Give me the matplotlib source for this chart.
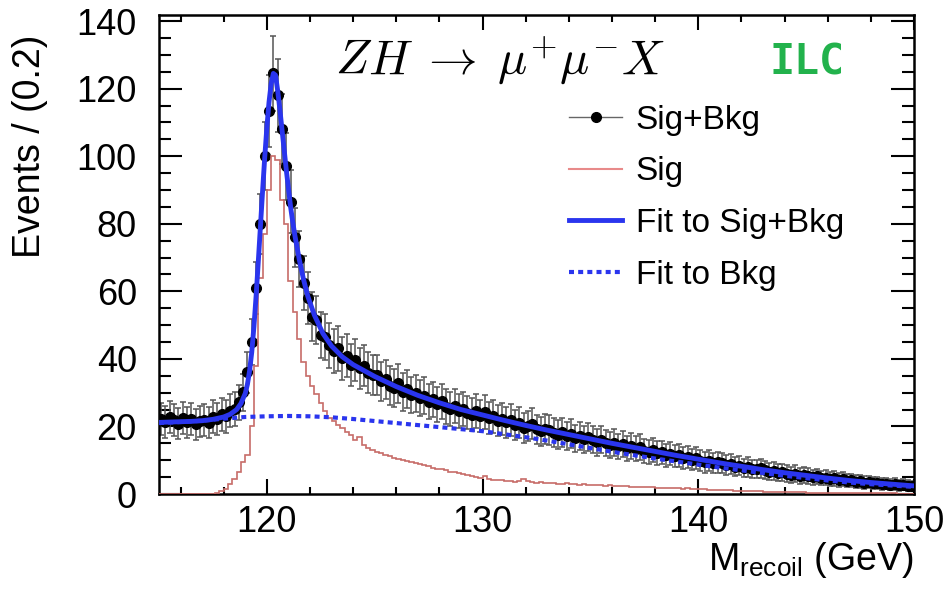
import matplotlib
matplotlib.use('Agg')
import matplotlib.pyplot as plt
import numpy as np
from matplotlib.lines import Line2D
from matplotlib.ticker import MultipleLocator

# Sig+Bkg events per 0.2 GeV bin, 115.0 -> 150.0 GeV (175 bins)
data_counts = [
    22.1, 21.3, 22.8, 21.9, 20.8, 22.4, 21.2, 22.3, 20.6, 21.5,
    22.0, 21.1, 22.9, 22.2, 23.6, 23.0, 24.7, 25.3, 27.2, 30.1,
    36.0, 45.0, 61.0, 80.0, 100.0, 113.5, 124.5, 118.0, 108.0, 97.0,
    86.5, 76.0, 69.5, 62.5, 58.0, 52.5, 51.5, 47.0, 46.5, 44.0,
    42.3, 43.1, 40.2, 41.0, 38.1, 39.6, 37.2, 38.0, 35.9, 35.1,
    35.2, 33.4, 33.9, 32.1, 31.3, 32.8, 30.2, 31.1, 29.3, 29.8,
    28.4, 29.1, 27.3, 28.0, 26.6, 27.4, 25.9, 25.3, 26.1, 24.6,
    25.1, 24.0, 23.5, 24.6, 23.1, 24.3, 22.4, 23.0, 21.7, 22.3,
    21.2, 22.0, 20.4, 21.1, 19.6, 20.2, 20.8, 19.1, 18.6, 19.3,
    19.0, 18.1, 17.6, 18.3, 17.2, 17.9, 16.5, 17.3, 16.2, 16.8,
    16.1, 15.3, 16.0, 15.1, 14.5, 15.2, 14.1, 14.7, 13.6, 14.2,
    13.4, 13.9, 12.8, 12.5, 13.0, 12.1, 12.3, 11.5, 11.9, 11.2,
    11.4, 10.7, 11.0, 10.2, 10.6, 9.9, 9.4, 9.9, 9.1, 9.4,
    9.2, 8.6, 8.9, 8.1, 8.4, 7.7, 8.0, 7.4, 7.3, 7.6,
    7.1, 6.6, 6.9, 6.3, 6.4, 6.0, 5.7, 6.0, 5.4, 5.6,
    5.4, 5.0, 5.2, 4.7, 4.8, 4.4, 4.6, 4.1, 4.3, 3.9,
    4.0, 3.7, 3.8, 3.4, 3.5, 3.2, 3.3, 3.0, 3.1, 2.8,
    2.9, 2.6, 2.7, 2.5, 2.4,
]

# signal only histogram, same binning
sig_counts = [
    0, 0, 0, 0, 0, 0, 0, 0, 0, 0,
    0, 0, 0, 0.3, 0.8, 1.5, 3.0, 4.5, 6.5, 9.5,
    11.5, 20.0, 38.0, 64.0, 77.0, 90.0, 100.0, 99.0, 87.0, 80.0,
    63.0, 54.0, 46.0, 39.0, 35.0, 32.0, 29.5, 27.0, 24.5, 22.6,
    21.5, 20.5, 19.5, 18.5, 17.5, 16.0, 17.0, 14.5, 13.5, 13.0,
    12.5, 12.0, 11.5, 11.2, 10.8, 10.3, 10.0, 9.8, 9.5, 9.3,
    9.0, 8.7, 8.2, 7.8, 7.5, 7.3, 7.0, 6.6, 6.4, 6.1,
    5.8, 5.5, 5.3, 5.0, 4.8, 5.4, 4.4, 4.2, 4.0, 4.1,
    3.9, 3.8, 3.7, 3.9, 4.3, 3.8, 3.5, 3.4, 3.5, 3.3,
    3.2, 3.3, 3.1, 3.0, 3.2, 2.9, 3.0, 2.8, 2.9, 2.7,
    2.7, 2.8, 2.6, 2.5, 2.7, 2.4, 2.5, 2.3, 2.4, 2.2,
    2.2, 2.1, 2.2, 2.0, 2.1, 1.9, 1.9, 1.8, 1.9, 1.7,
    1.7, 1.6, 1.7, 1.5, 1.5, 1.4, 1.4, 1.3, 1.3, 1.2,
    1.2, 1.1, 1.1, 1.0, 1.0, 0.9, 0.9, 0.8, 0.8, 0.8,
    0.7, 0.7, 0.7, 0.6, 0.6, 0.6, 0.5, 0.5, 0.5, 0.5,
    0.4, 0.4, 0.4, 0.4, 0.3, 0.3, 0.3, 0.3, 0.3, 0.3,
    0.3, 0.2, 0.2, 0.2, 0.2, 0.2, 0.2, 0.2, 0.2, 0.2,
    0.2, 0.1, 0.1, 0.1, 0.1,
]

# fit to sig+bkg
fit_m = [115.0, 115.5, 116.0, 116.5, 117.0, 117.5, 118.0, 118.3, 118.6, 118.8,
         119.0, 119.1, 119.2, 119.3, 119.4, 119.5, 119.6, 119.7, 119.8, 119.9,
         120.0, 120.1, 120.2, 120.3, 120.4, 120.5, 120.6, 120.7, 120.8, 120.9,
         121.0, 121.1, 121.2, 121.3, 121.4, 121.5, 121.7, 121.9, 122.2, 122.6,
         123.0, 123.5, 124.0, 125, 126, 127, 128, 129, 130, 131, 132, 133, 134,
         135, 136, 137, 138, 139, 140, 141, 142, 143, 144, 145, 146, 147, 148,
         149, 150]
fit_sb = [21.2, 21.3, 21.4, 21.5, 21.7, 22.1, 22.8, 23.6, 25.0, 26.8,
          29.8, 32.5, 36.5, 42.0, 49.5, 58.5, 68.5, 79.0, 89.5, 99.5,
          108.5, 116.0, 121.5, 124.5, 124.0, 119.5, 114.0, 108.0, 102.0, 96.0,
          90.5, 85.0, 80.5, 76.5, 73.0, 69.5, 63.5, 58.5, 53.0, 47.5,
          43.8, 40.6, 38.3, 34.8, 31.8, 29.2, 27.0, 25.0, 23.4, 21.8, 20.3, 18.9, 17.6,
          16.3, 15.0, 13.8, 12.6, 11.4, 10.3, 9.2, 8.2, 7.2, 6.3, 5.5, 4.7, 4.0, 3.4,
          2.9, 2.4]

# fit to bkg
bkg_m = [115, 116, 117, 118, 119, 120, 121, 122, 123, 124, 125, 126, 127, 128,
         129, 130, 131, 132, 133, 134, 135, 136, 137, 138, 139, 140, 141, 142,
         143, 144, 145, 146, 147, 148, 149, 150]
fit_bkg = [21.0, 21.3, 21.7, 22.3, 22.8, 23.0, 23.1, 23.0, 22.7, 22.2, 21.6, 21.0,
           20.4, 19.8, 19.2, 18.6, 17.7, 16.8, 15.8, 14.7, 13.6, 12.5, 11.5, 10.5,
           9.6, 8.7, 7.8, 7.0, 6.2, 5.4, 4.7, 4.0, 3.4, 2.9, 2.5, 2.1]

plt.rcParams['font.family'] = 'Liberation Sans'
plt.rcParams['mathtext.fontset'] = 'custom'
plt.rcParams['mathtext.rm'] = 'Liberation Sans'
plt.rcParams['mathtext.it'] = 'Liberation Sans:italic'

BLUE = '#2a35ee'
SIGCOL = '#c76c68'

fig = plt.figure(figsize=(9.47, 5.95), dpi=100)
ax = fig.add_axes([159/947., 1 - 494/595., 755/947., 479/595.])

edges = np.linspace(115, 150, len(data_counts) + 1)
centers = 0.5 * (edges[1:] + edges[:-1])
counts = np.array(data_counts)

ax.errorbar(centers, counts, yerr=np.sqrt(counts), fmt='o', color='black', ms=7,
            ecolor='#555555', elinewidth=1.1, capsize=2.5, capthick=1.1, zorder=2)
ax.stairs(sig_counts, edges, color=SIGCOL, lw=1.2, zorder=3)
ax.plot(bkg_m, fit_bkg, color=BLUE, lw=3, ls=(0, (1.2, 1.0)), zorder=4)
ax.plot(fit_m, fit_sb, color=BLUE, lw=3.5, zorder=5, solid_joinstyle='round')

ax.set_xlim(115, 150)
ax.set_ylim(0, 141.8)
ax.xaxis.set_major_locator(MultipleLocator(10))
ax.xaxis.set_minor_locator(MultipleLocator(2))
ax.yaxis.set_major_locator(MultipleLocator(20))
ax.yaxis.set_minor_locator(MultipleLocator(5))
ax.tick_params(which='both', direction='in', top=True, right=True, width=1.5, labelsize=26)
ax.tick_params(axis='x', which='major', length=11, pad=8)
ax.tick_params(axis='x', which='minor', length=5)
ax.tick_params(axis='y', which='major', length=16.5, pad=16)
ax.tick_params(axis='y', which='minor', length=8.5)
for s in ax.spines.values():
    s.set_linewidth(1.8)

ax.set_ylabel('Events / (0.2)', fontsize=27, loc='top')
ax.yaxis.set_label_coords(-0.147, 0.958)
ax.set_xlabel(r'M$_{\rm recoil}$ (GeV)', fontsize=27, loc='right')
ax.xaxis.set_label_coords(1.0, -0.096)

ax.text(0.233, 0.875, r'$ZH \;\rightarrow\; \mu^{+}\mu^{-}X$', math_fontfamily='cm',
        fontsize=35, transform=ax.transAxes, va='baseline')
ax.text(0.809, 0.875, 'ILC', family='DejaVu Sans Mono', weight='bold', fontsize=30,
        color='#22b24c', transform=ax.transAxes, va='baseline')

handles = [
    Line2D([], [], color='#666666', lw=1, marker='o', mfc='black', mec='black', ms=7),
    Line2D([], [], color='#e88a8a', lw=1.5),
    Line2D([], [], color=BLUE, lw=3.5),
    Line2D([], [], color=BLUE, lw=3, ls=(0, (1.2, 1.0))),
]
labels = ['Sig+Bkg', 'Sig', 'Fit to Sig+Bkg', 'Fit to Bkg']
ax.legend(handles, labels, loc='upper left', bbox_to_anchor=(0.543, 0.813), fontsize=24,
          frameon=False, handlelength=1.6, handletextpad=0.4, labelspacing=0.62,
          borderpad=0, borderaxespad=0)

fig.savefig('out.png', dpi=100)
